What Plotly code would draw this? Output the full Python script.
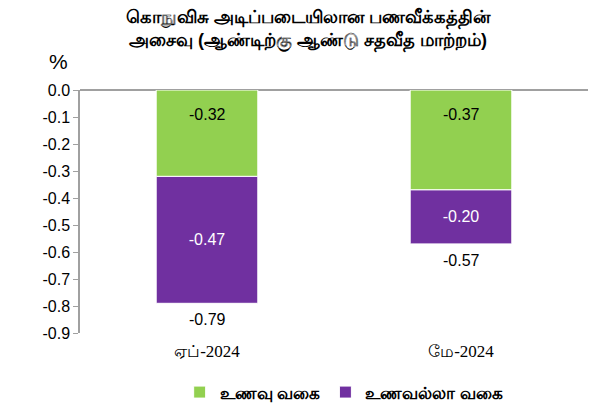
import plotly.graph_objects as go

categories = ["ஏப்-2024", "மே-2024"]
food = [-0.32, -0.37]
nonfood = [-0.47, -0.20]
totals = [-0.79, -0.57]
series_names = ["உணவு வகை", "உணவல்லா வகை"]
yticks = [0.0, -0.1, -0.2, -0.3, -0.4, -0.5, -0.6, -0.7, -0.8, -0.9]
title_text = "கொநுவிசு அடிப்படையிலான பணவீக்கத்தின்<br>அசைவு (ஆண்டிற்கு ஆண்டு சதவீத மாற்றம்)"

GREEN = "#92D050"
PURPLE = "#7030A0"
SANS = "Arial, Liberation Sans, sans-serif"

fig = go.Figure()
fig.add_trace(go.Bar(
    x=categories, y=food, name="<b>" + series_names[0] + "</b>",
    marker=dict(color=GREEN, line=dict(color="white", width=1)),
))
fig.add_trace(go.Bar(
    x=categories, y=nonfood, name="<b>" + series_names[1] + "</b>",
    marker=dict(color=PURPLE, line=dict(color="white", width=1)),
    text=[f"{v:.2f}" for v in nonfood], textposition="inside",
    insidetextanchor="middle",
    textfont=dict(color="white", size=16, family=SANS),
))

annotations = []
for c, v in zip(categories, food):
    annotations.append(dict(x=c, y=0, text=f"{v:.2f}", showarrow=False,
                            yanchor="middle", yshift=-24,
                            font=dict(size=16, color="black", family=SANS)))
for c, t in zip(categories, totals):
    annotations.append(dict(x=c, y=t, text=f"{t:.2f}", showarrow=False,
                            yanchor="top", yshift=-6,
                            font=dict(size=16, color="black", family=SANS)))
annotations.append(dict(xref="paper", yref="paper", x=-0.02, y=1.06,
                        text="%", showarrow=False, xanchor="right", yanchor="bottom",
                        font=dict(size=21, color="black", family=SANS)))
annotations.append(dict(xref="paper", yref="paper", x=0.45, y=1.245,
                        text="<b>" + title_text + "</b>", showarrow=False,
                        xanchor="center", yanchor="middle",
                        font=dict(size=18, color="black", family=SANS)))

fig.update_layout(
    barmode="relative",
    bargap=0.6,
    width=609, height=405,
    margin=dict(l=80, r=21, t=90, b=72, autoexpand=False),
    paper_bgcolor="white", plot_bgcolor="white",
    showlegend=True,
    legend=dict(orientation="h", xref="paper", yref="paper",
                x=0.52, xanchor="center", y=-0.245, yanchor="middle",
                font=dict(size=17, color="black", family=SANS),
                tracegroupgap=0, itemwidth=30),
    annotations=annotations,
    xaxis=dict(showline=False, ticks="", showgrid=False, ticklabelstandoff=6,
               tickfont=dict(size=17, color="black", family="Liberation Serif, serif")),
    yaxis=dict(range=[-0.9, 0], tickvals=yticks,
               ticktext=[f"{v:.1f}" for v in yticks],
               showgrid=False, showline=True, linecolor="#A0A0A0", linewidth=1.5,
               ticks="outside", ticklen=5, tickcolor="#A0A0A0",
               zeroline=True, zerolinecolor="#A0A0A0", zerolinewidth=1.5,
               tickfont=dict(size=16, color="black", family=SANS)),
)

fig.write_html("out.html")
